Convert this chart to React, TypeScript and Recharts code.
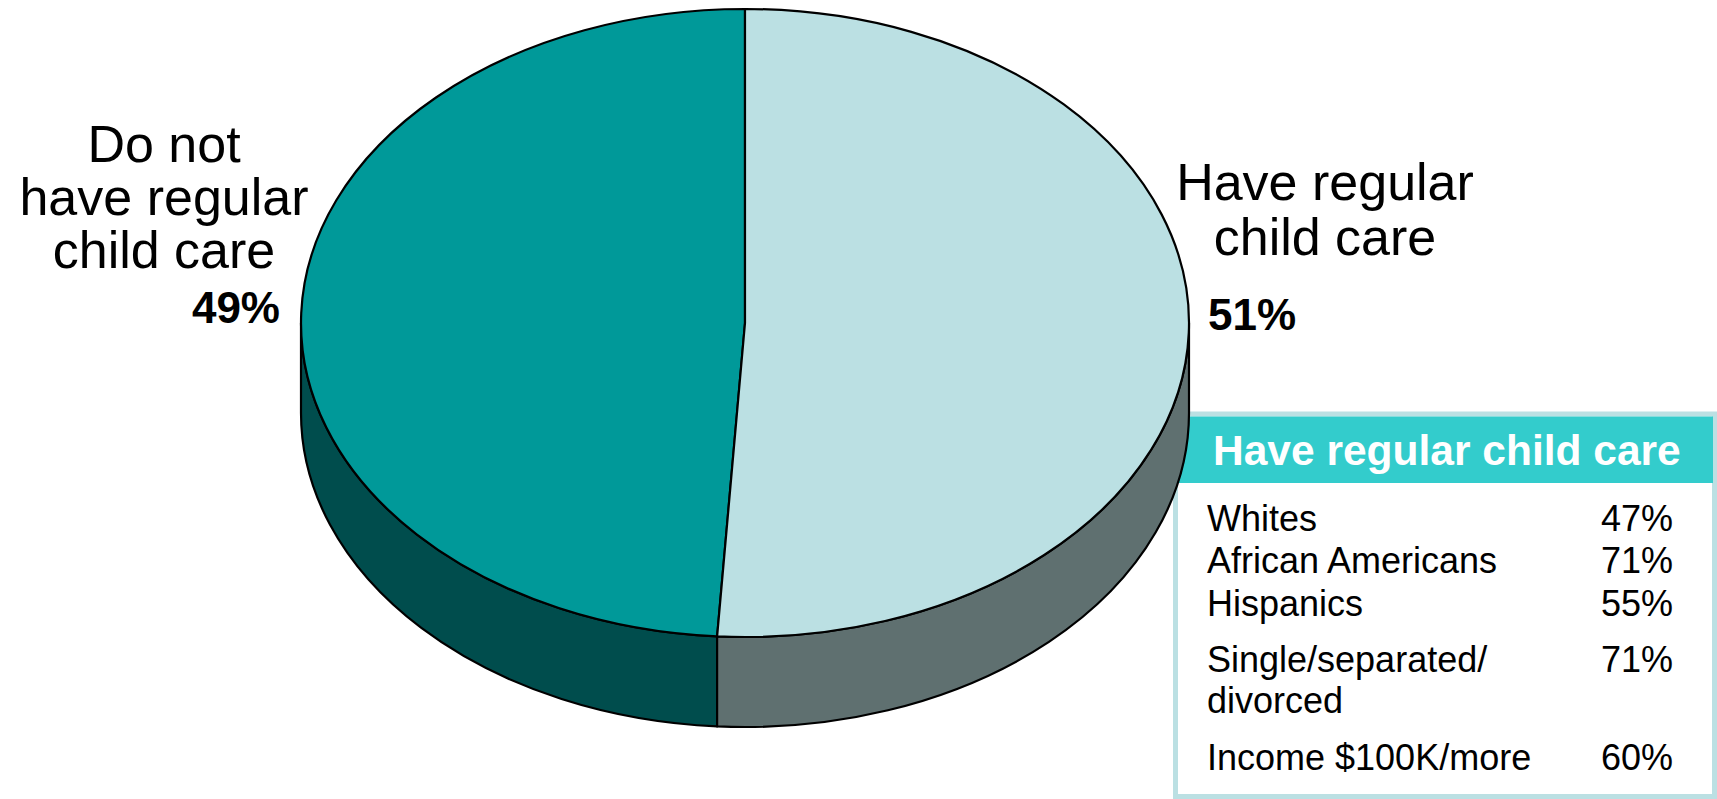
import React from 'react';
import { PieChart, Pie } from 'recharts';

// ---- data ----
const categories = ['Do not have regular child care', 'Have regular child care'];
const shares = [49, 51];
const labelLines = [
  ['Do not', 'have regular', 'child care'],
  ['Have regular', 'child care'],
];
const tableTitle = 'Have regular child care';
const groupLabels = [['Whites'], ['African Americans'], ['Hispanics'], ['Single/separated/', 'divorced'], ['Income $100K/more']];
const groupValues = [47, 71, 55, 71, 60];

// ---- style ----
const topColors = ['#009999', '#BBE0E3'];
const sideColors = ['#004D4D', '#5F7070'];
const FONT = '"Liberation Sans", Arial, Helvetica, sans-serif';
const W = 1717;
const H = 799;
const CX = 745;
const CY = 323;
const RX = 444;
const RATIO = 314 / 444;
const DEPTH = 90;
const RAD = Math.PI / 180;

const chartData = categories.map((name, i) => ({ name, value: shares[i] }));

const pt = (cx: number, cy: number, rx: number, ry: number, a: number, dy = 0) =>
  `${(cx + rx * Math.cos(-a * RAD)).toFixed(2)},${(cy + ry * Math.sin(-a * RAD) + dy).toFixed(2)}`;

const textLayout = [
  { nameDx: -581, lineDy: [-161, -108, -55], pctDx: -465, pctDy: 0, pctAnchor: 'end' },
  { nameDx: 580, lineDy: [-123, -68], pctDx: 463, pctDy: 7, pctAnchor: 'start' },
];

const renderSlice = (props: any) => {
  const { cx, cy, outerRadius, startAngle, endAngle, index, value } = props;
  const rx = outerRadius;
  const ry = outerRadius * RATIO;
  const s = Math.min(startAngle, endAngle);
  const e = Math.max(startAngle, endAngle);
  const large = e - s > 180 ? 1 : 0;
  const top = `M${cx},${cy} L${pt(cx, cy, rx, ry, s)} A${rx},${ry} 0 ${large} 0 ${pt(cx, cy, rx, ry, e)} Z`;
  const sides: string[] = [];
  for (const base of [-180, 180, 540]) {
    const a1 = Math.max(s, base);
    const a2 = Math.min(e, base + 180);
    if (a2 > a1) {
      sides.push(
        `M${pt(cx, cy, rx, ry, a1)} A${rx},${ry} 0 0 0 ${pt(cx, cy, rx, ry, a2)} L${pt(cx, cy, rx, ry, a2, DEPTH)} A${rx},${ry} 0 0 1 ${pt(cx, cy, rx, ry, a1, DEPTH)} Z`
      );
    }
  }
  const lay = textLayout[index];
  return (
    <g key={`slice-${index}`}>
      {sides.map((d, k) => (
        <path key={k} d={d} fill={sideColors[index]} stroke="#000" strokeWidth={2.2} strokeLinejoin="round" />
      ))}
      <path d={top} fill={topColors[index]} stroke="#000" strokeWidth={2.2} strokeLinejoin="round" />
      <text fontFamily={FONT} fontSize={52} fill="#000" textAnchor="middle">
        {labelLines[index].map((ln, k) => (
          <tspan key={k} x={cx + lay.nameDx} y={cy + lay.lineDy[k]}>
            {ln}
          </tspan>
        ))}
      </text>
      <text
        x={cx + lay.pctDx}
        y={cy + lay.pctDy}
        fontFamily={FONT}
        fontSize={44}
        fontWeight="bold"
        fill="#000"
        textAnchor={lay.pctAnchor as any}
      >
        {`${value}%`}
      </text>
    </g>
  );
};

const rowBaselines = [[531], [573], [616], [672, 713], [770]];

export default function App() {
  return (
    <div style={{ position: 'absolute', left: 0, top: 0, width: W, height: H, background: '#fff' }}>
      <svg width={W} height={H} style={{ position: 'absolute', left: 0, top: 0 }}>
        <rect x={1175.5} y={414} width={1539 - 1000} height={382.5} fill="#fff" stroke="#BBE0E3" strokeWidth={5} />
        <rect x={1178} y={416.5} width={535} height={66.5} fill="#33CCCC" />
        <text x={1213} y={465} fontFamily={FONT} fontSize={42.5} fontWeight="bold" fill="#fff">
          {tableTitle}
        </text>
        {groupLabels.map((lines, i) => (
          <g key={i}>
            <text fontFamily={FONT} fontSize={36} fill="#000">
              {lines.map((ln, k) => (
                <tspan key={k} x={1207} y={rowBaselines[i][k]}>
                  {ln}
                </tspan>
              ))}
            </text>
            <text x={1673} y={rowBaselines[i][0]} fontFamily={FONT} fontSize={36} fill="#000" textAnchor="end">
              {`${groupValues[i]}%`}
            </text>
          </g>
        ))}
      </svg>
      <div style={{ position: 'absolute', left: 0, top: 0 }}>
        <PieChart width={W} height={H} margin={{ top: 0, right: 0, bottom: 0, left: 0 }}>
          <Pie
            data={chartData}
            dataKey="value"
            nameKey="name"
            cx={CX}
            cy={CY}
            outerRadius={RX}
            startAngle={90}
            endAngle={450}
            fill="none"
            stroke="none"
            label={renderSlice}
            labelLine={false}
            isAnimationActive={false}
          />
        </PieChart>
      </div>
    </div>
  );
}
